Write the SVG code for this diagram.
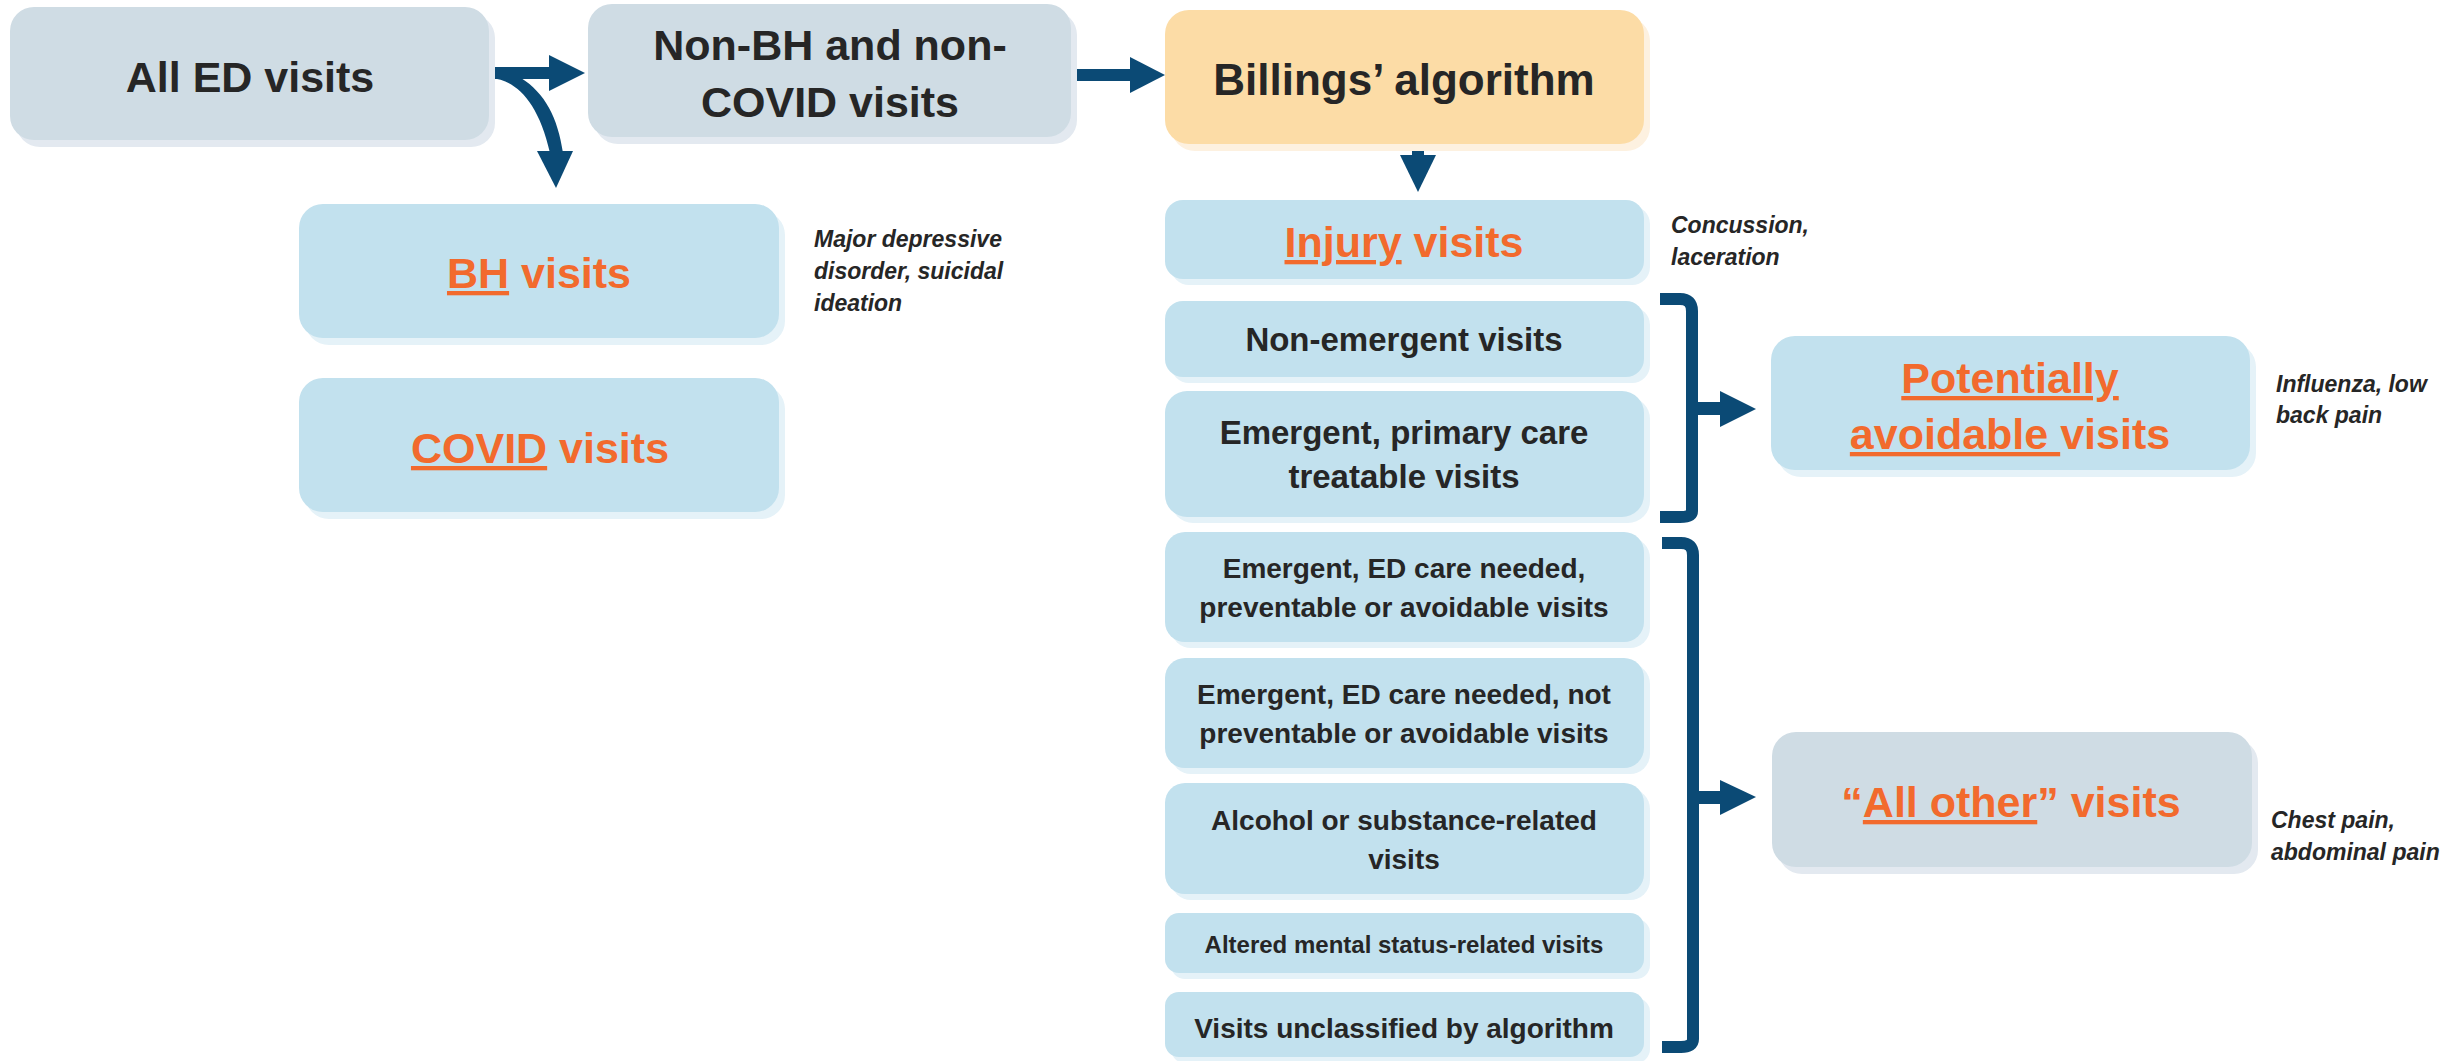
<svg xmlns="http://www.w3.org/2000/svg" width="2463" height="1061" viewBox="0 0 2463 1061">
<style>
  .gray{fill:#cfdce4}
  .grayS{fill:#e3e9f0}
  .blue{fill:#c2e1ee}
  .blueS{fill:#e5f2f8}
  .org{fill:#fcdca6}
  .orgS{fill:#fdf1e0}
  text{font-family:"Liberation Sans",Arial,sans-serif;font-weight:bold;text-anchor:middle;fill:#262626}
  .big{font-size:43px}
  .o{fill:#f26a2d}
  .u{text-decoration:underline}
  .m33{font-size:33px}
  .m28{font-size:28px}
  .m24{font-size:24px}
  .note{font-size:23px;font-style:italic;text-anchor:start}
  .arr{fill:#0b4a75}
  .ln{fill:none;stroke:#0b4a75;stroke-width:12}
</style>
<rect width="2463" height="1061" fill="#ffffff"/>

<g id="connectors">
  <rect class="arr" x="489" y="67" width="62" height="12"/>
  <polygon class="arr" points="549,55 549,91 585,73"/>
  <path class="arr" d="M491 78 C515 80 538 100 550 153 L563 153 C558 118 545 93 521 78 Z"/>
  <polygon class="arr" points="537,151 573,151 556,188"/>
  <rect class="arr" x="1071" y="69" width="61" height="12"/>
  <polygon class="arr" points="1130,57 1130,93 1165,75"/>
  <rect class="arr" x="1412" y="140" width="12" height="17"/>
  <polygon class="arr" points="1400,155 1436,155 1418,192"/>
  <path class="ln" d="M1660 299 H1680 Q1692 299 1692 311 V511 Q1692 517 1680 517 H1660"/>
  <rect class="arr" x="1692" y="402" width="31" height="13"/>
  <polygon class="arr" points="1720,391 1720,427 1756,409"/>
  <path class="ln" d="M1662 543 H1681 Q1693 543 1693 555 V1039 Q1693 1047 1681 1047 H1662"/>
  <rect class="arr" x="1693" y="791" width="30" height="13"/>
  <polygon class="arr" points="1720,780 1720,815 1756,797"/>
</g>

<g id="all-ed">
  <rect class="grayS" x="16" y="14" width="479" height="133" rx="24"/>
  <rect class="gray" x="10" y="7" width="479" height="133" rx="24"/>
  <text class="big" x="250" y="92">All ED visits</text>
</g>
<g id="non-bh">
  <rect class="grayS" x="594" y="11" width="483" height="133" rx="24"/>
  <rect class="gray" x="588" y="4" width="483" height="133" rx="24"/>
  <text class="big" x="830" y="60">Non-BH and non-</text>
  <text class="big" x="830" y="117">COVID visits</text>
</g>
<g id="billings">
  <rect class="orgS" x="1171" y="17" width="479" height="134" rx="24"/>
  <rect class="org" x="1165" y="10" width="479" height="134" rx="24"/>
  <text x="1404" y="95" style="font-size:44px">Billings’ algorithm</text>
</g>
<g id="bh">
  <rect class="blueS" x="305" y="211" width="480" height="134" rx="24"/>
  <rect class="blue" x="299" y="204" width="480" height="134" rx="24"/>
  <text class="big o" x="539" y="288"><tspan class="u">BH</tspan> visits</text>
</g>
<g id="bh-note">
  <text class="note" x="814" y="247">Major depressive</text>
  <text class="note" x="814" y="279">disorder, suicidal</text>
  <text class="note" x="814" y="311">ideation</text>
</g>
<g id="covid">
  <rect class="blueS" x="305" y="385" width="480" height="134" rx="24"/>
  <rect class="blue" x="299" y="378" width="480" height="134" rx="24"/>
  <text class="big o" x="540" y="463"><tspan class="u">COVID</tspan> visits</text>
</g>
<g id="injury">
  <rect class="blueS" x="1171" y="206" width="479" height="79" rx="18"/>
  <rect class="blue" x="1165" y="200" width="479" height="79" rx="18"/>
  <text class="big o" x="1404" y="257"><tspan class="u">Injury</tspan> visits</text>
</g>
<g id="injury-note">
  <text class="note" x="1671" y="233">Concussion,</text>
  <text class="note" x="1671" y="265">laceration</text>
</g>
<g id="non-emergent">
  <rect class="blueS" x="1171" y="307" width="479" height="76" rx="18"/>
  <rect class="blue" x="1165" y="301" width="479" height="76" rx="18"/>
  <text class="m33" x="1404" y="351">Non-emergent visits</text>
</g>
<g id="emergent-pc">
  <rect class="blueS" x="1171" y="397" width="479" height="126" rx="22"/>
  <rect class="blue" x="1165" y="391" width="479" height="126" rx="22"/>
  <text class="m33" x="1404" y="444">Emergent, primary care</text>
  <text class="m33" x="1404" y="488">treatable visits</text>
</g>
<g id="ed-preventable">
  <rect class="blueS" x="1171" y="538" width="479" height="110" rx="20"/>
  <rect class="blue" x="1165" y="532" width="479" height="110" rx="20"/>
  <text class="m28" x="1404" y="578">Emergent, ED care needed,</text>
  <text class="m28" x="1404" y="617">preventable or avoidable visits</text>
</g>
<g id="ed-not-preventable">
  <rect class="blueS" x="1171" y="664" width="479" height="110" rx="20"/>
  <rect class="blue" x="1165" y="658" width="479" height="110" rx="20"/>
  <text class="m28" x="1404" y="704">Emergent, ED care needed, not</text>
  <text class="m28" x="1404" y="743">preventable or avoidable visits</text>
</g>
<g id="alcohol">
  <rect class="blueS" x="1171" y="789" width="479" height="111" rx="20"/>
  <rect class="blue" x="1165" y="783" width="479" height="111" rx="20"/>
  <text class="m28" x="1404" y="830">Alcohol or substance-related</text>
  <text class="m28" x="1404" y="869">visits</text>
</g>
<g id="altered">
  <rect class="blueS" x="1171" y="919" width="479" height="60" rx="14"/>
  <rect class="blue" x="1165" y="913" width="479" height="60" rx="14"/>
  <text class="m24" x="1404" y="953">Altered mental status-related visits</text>
</g>
<g id="unclassified">
  <rect class="blueS" x="1171" y="998" width="479" height="65" rx="14"/>
  <rect class="blue" x="1165" y="992" width="479" height="65" rx="14"/>
  <text class="m28" x="1404" y="1038">Visits unclassified by algorithm</text>
</g>
<g id="potentially-avoidable">
  <rect class="blueS" x="1777" y="343" width="479" height="134" rx="24"/>
  <rect class="blue" x="1771" y="336" width="479" height="134" rx="24"/>
  <text class="big o" x="2010" y="393"><tspan class="u">Potentially</tspan></text>
  <text class="big o" x="2010" y="449"><tspan class="u">avoidable </tspan>visits</text>
</g>
<g id="pa-note">
  <text class="note" x="2276" y="392">Influenza, low</text>
  <text class="note" x="2276" y="423">back pain</text>
</g>
<g id="all-other">
  <rect class="grayS" x="1778" y="739" width="480" height="135" rx="24"/>
  <rect class="gray" x="1772" y="732" width="480" height="135" rx="24"/>
  <text class="big o" x="2011" y="817">“<tspan class="u">All other</tspan>” visits</text>
</g>
<g id="ao-note">
  <text class="note" x="2271" y="828">Chest pain,</text>
  <text class="note" x="2271" y="860">abdominal pain</text>
</g>
</svg>
